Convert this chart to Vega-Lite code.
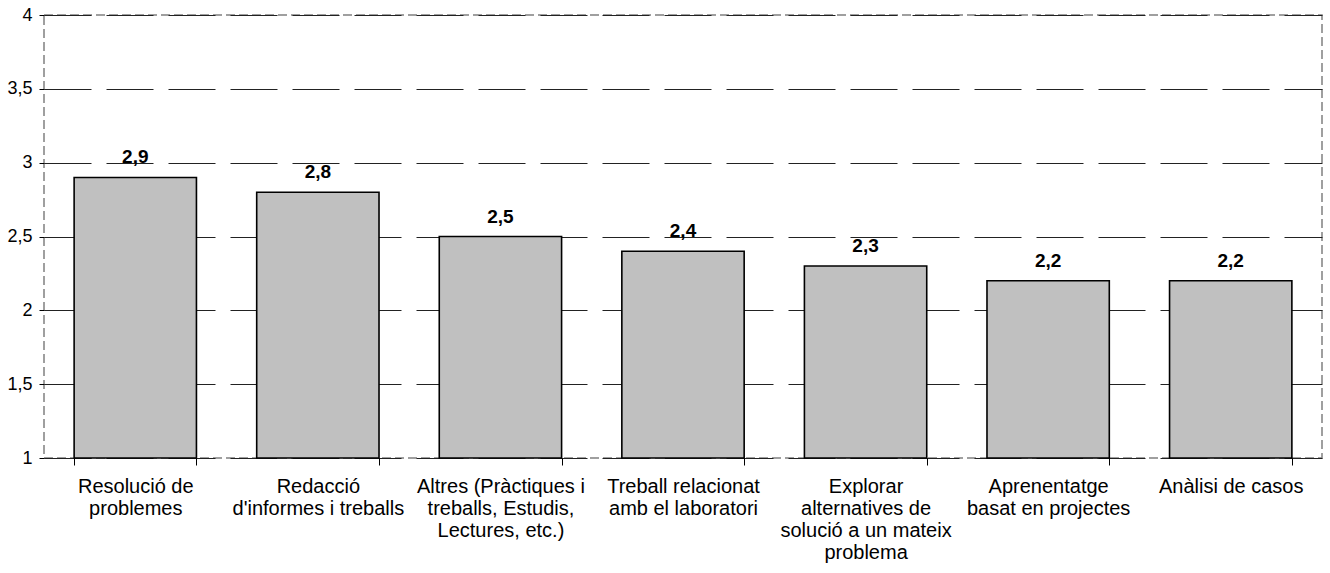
{
  "$schema": "https://vega.github.io/schema/vega-lite/v6.json",
  "autosize": "none",
  "padding": {"left": 44, "top": 15, "right": 8, "bottom": 115},
  "width": 1278,
  "height": 443,
  "config": {
    "locale": {"number": {"decimal": ",", "thousands": ".", "grouping": [3], "currency": ["", " €"]}},
    "font": "Liberation Sans",
    "view": {"stroke": "#808080", "strokeDash": [9, 4], "strokeWidth": 1.5}
  },
  "data": {
    "values": [
      {"cat": "Resolució de\nproblemes", "val": 2.9},
      {"cat": "Redacció\nd'informes i treballs", "val": 2.8},
      {"cat": "Altres (Pràctiques i\ntreballs, Estudis,\nLectures, etc.)", "val": 2.5},
      {"cat": "Treball relacionat\namb el laboratori", "val": 2.4},
      {"cat": "Explorar\nalternatives de\nsolució a un mateix\nproblema", "val": 2.3},
      {"cat": "Aprenentatge\nbasat en projectes", "val": 2.2},
      {"cat": "Anàlisi de casos", "val": 2.2}
    ]
  },
  "encoding": {
    "x": {
      "field": "cat", "type": "nominal", "sort": null,
      "scale": {"paddingInner": 0.33, "paddingOuter": 0.165},
      "axis": {
        "title": null, "labelAngle": 0, "domain": false, "tickBand": "extent",
        "tickColor": "#000", "tickSize": 7, "tickWidth": 1,
        "labelExpr": "split(datum.label, '\\n')",
        "labelFontSize": 20, "labelColor": "#000", "labelLineHeight": 22,
        "labelPadding": 11, "labelLimit": 400
      }
    }
  },
  "layer": [
    {
      "mark": {"type": "bar", "fill": "#C0C0C0", "stroke": "#000", "strokeWidth": 1.6},
      "encoding": {
        "y": {
          "field": "val", "type": "quantitative",
          "scale": {"domain": [1, 4], "zero": false, "nice": false},
          "axis": {
            "title": null, "values": [1, 1.5, 2, 2.5, 3, 3.5, 4], "format": ".1~f",
            "domain": false, "tickColor": "#000", "tickSize": 5, "labelPadding": 7,
            "labelFontSize": 18, "labelColor": "#000",
            "grid": true, "gridColor": "#222", "gridDash": [47, 15], "gridWidth": 1
          }
        },
        "y2": {"datum": 1}
      }
    },
    {
      "mark": {"type": "text", "fontWeight": "bold", "fontSize": 19, "baseline": "alphabetic", "dy": -14, "color": "#000"},
      "encoding": {
        "y": {"field": "val", "type": "quantitative"},
        "text": {"field": "val", "type": "quantitative", "format": ".1f"}
      }
    }
  ]
}
